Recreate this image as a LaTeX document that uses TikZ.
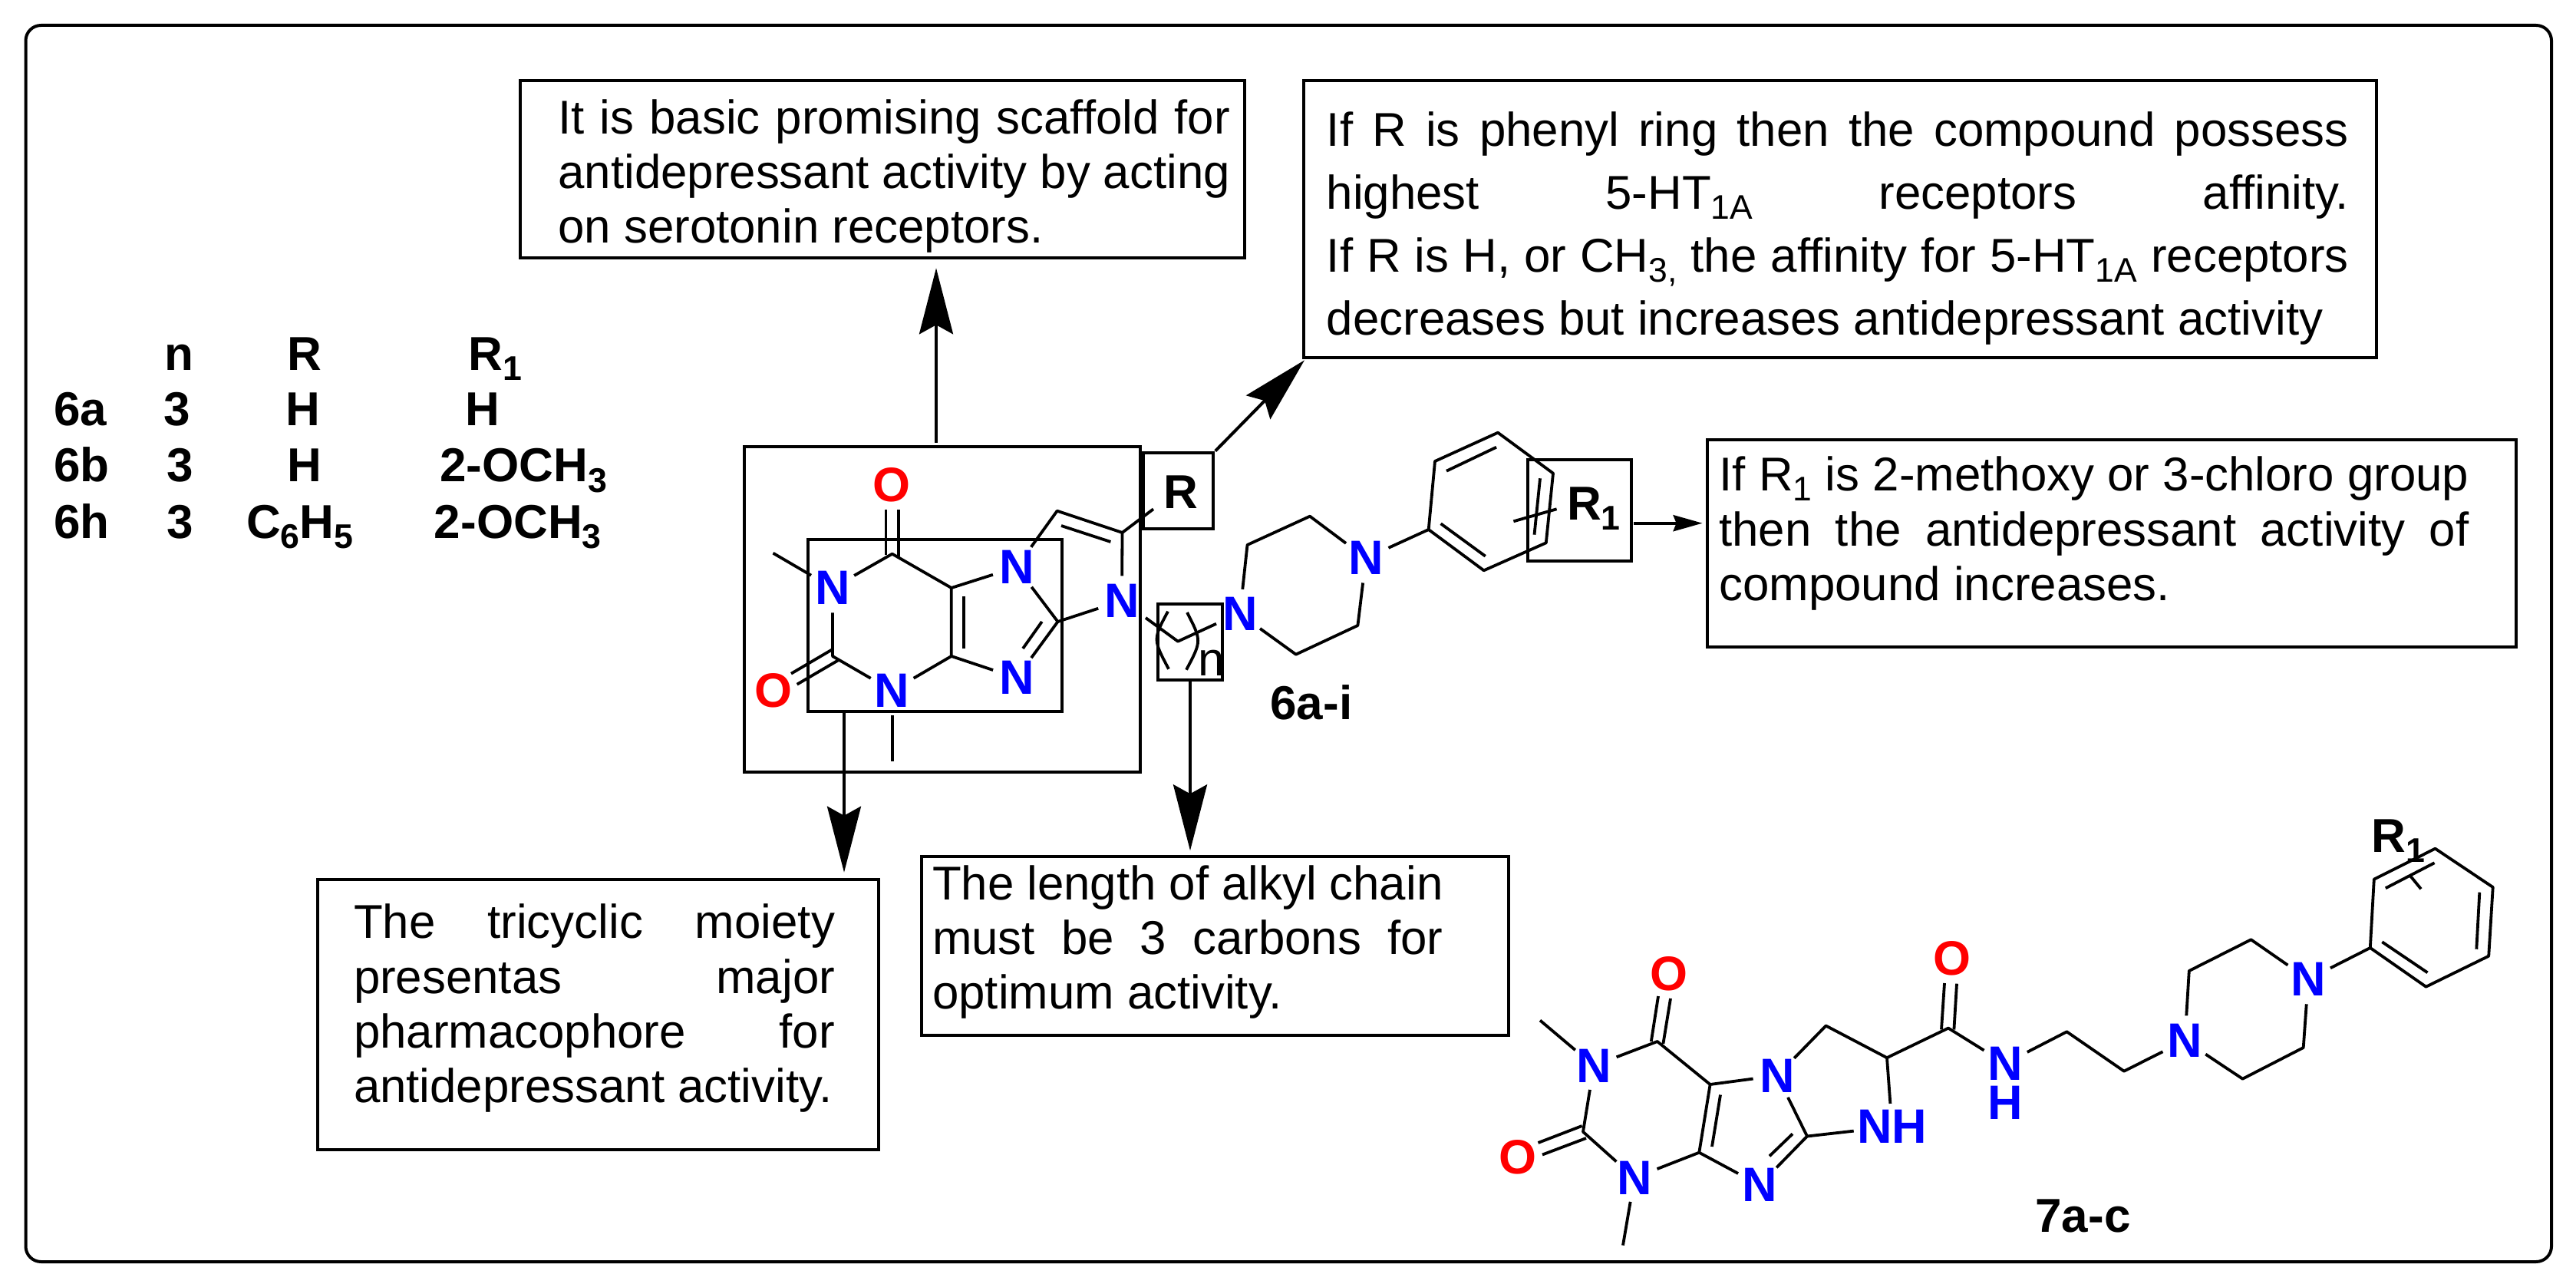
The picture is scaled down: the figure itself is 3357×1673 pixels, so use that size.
\documentclass[tikz,border=0pt]{standalone}
\usepackage{fontspec}
\usepackage{graphicx}
\setmainfont{Liberation Sans}
\usetikzlibrary{arrows.meta}
\hbadness=10000
\hfuzz=20pt
\newcommand\sbs[1]{\raisebox{-.21em}{\scalebox{.72}{#1}}}
\newcommand\bxn[5]{\pgfmathsetmacro\bw{(#4-#2)*0.5}\pgfmathsetmacro\bh{(#5-#3)*0.5}\node[boxst,minimum width=\bw pt,minimum height=\bh pt] (#1) at ({(#2+#4)/2},{(#3+#5)/2}) {};}
\newcommand\para[3]{\parbox[t]{#1}{\fontsize{30.9pt}{#2}\selectfont\sloppy #3}}
\tikzset{
  boxst/.style={draw=black,line width=2pt,inner sep=0pt},
  bond/.style={draw=black,line width=1.9pt,line join=round},
  txt/.style={inner sep=0pt,anchor=base west},
  tb/.style={inner sep=0pt,anchor=base west,font=\fontsize{31pt}{36pt}\selectfont\bfseries},
  lab/.style={inner sep=0pt,anchor=base west,font=\fontsize{31pt}{36pt}\selectfont\bfseries},
  natom/.style={circle,inner sep=0pt,minimum size=32pt,text=blue,font=\fontsize{31.5pt}{36pt}\selectfont\bfseries},
  oatom/.style={inner sep=0pt,text=red,font=\fontsize{31.5pt}{36pt}\selectfont\bfseries},
  bigarrow/.style={draw=black,line width=2pt,-{Stealth[length=43pt,width=22pt,inset=6pt]}},
  smallarrow/.style={draw=black,line width=2pt,-{Stealth[length=19pt,width=10.5pt,inset=2pt]}},
}
\begin{document}
\begin{tikzpicture}[x=0.5pt,y=-0.5pt]
\useasboundingbox (0,0) rectangle (3357,1673);
\fill[white] (0,0) rectangle (3357,1673);
\draw[line width=2pt,rounded corners=10pt] (33.5,33) rectangle (3325,1644);

% text boxes
\bxn{btop}{678}{105}{1621.6}{336}
\bxn{bright}{1698.6}{105}{3097}{466}
\bxn{bone}{2224.7}{572.7}{3278.5}{842.7}
\bxn{btri}{414}{1146}{1144.5}{1498}
\bxn{balk}{1201}{1116}{1966}{1349}
\node[txt] (ttop) at (727,175) {\para{437.8pt}{35.5pt}{It is basic promising scaffold for\linebreak antidepressant activity by acting\linebreak on serotonin receptors.}};
\node[txt] (tright) at (1728.4,190.7) {\para{666pt}{41pt}{If R is phenyl ring then the compound possess\linebreak highest 5-HT\sbs{1A} receptors affinity.\linebreak If R is H, or CH\sbs{3,} the affinity for 5-HT\sbs{1A} receptors\linebreak decreases but increases antidepressant activity}};
\node[txt] (tone) at (2240,640) {\para{488.5pt}{35.7pt}{If R\sbs{1} is 2-methoxy or 3-chloro group\linebreak then the antidepressant activity of\linebreak compound increases.}};
\node[txt] (ttri) at (460.6,1222.7) {\para{313.5pt}{35.7pt}{The tricyclic moiety\linebreak presentas major\linebreak pharmacophore for\linebreak antidepressant activity.}};
\node[txt] (talk) at (1214.7,1172.7) {\para{332.7pt}{35.5pt}{The length of alkyl chain\linebreak must be 3 carbons for\linebreak optimum activity.}};

% table
\node[tb] (hn) at (214.5,482.7) {n};
\node[tb] (hr) at (374,482.7) {R};
\node[tb] (hra) at (610.4,482.7) {R\sbs{1}};
\node[tb] (a0) at (70,555) {6a};
\node[tb] (a1) at (213.5,555) {3};
\node[tb] (a2) at (371.6,555) {H};
\node[tb] (a3) at (606,555) {H};
\node[tb] (b0) at (70,628) {6b};
\node[tb] (b1) at (217,628) {3};
\node[tb] (b2) at (374,628) {H};
\node[tb] (b3) at (573,628) {2-OCH\sbs{3}};
\node[tb] (c0) at (70,701.7) {6h};
\node[tb] (c1) at (217,701.7) {3};
\node[tb] (c2t) at (320.6,701.7) {C\sbs{6}H\sbs{5}};
\node[tb] (c3) at (565.5,701.7) {2-OCH\sbs{3}};

% highlight boxes
\bxn{outer}{970}{582}{1485.5}{1006}
\bxn{inner}{1053.4}{703.3}{1383.5}{926.7}
\bxn{rbox}{1489.6}{590}{1580.5}{689}
\bxn{nbox}{1509}{786.7}{1593}{886}
\bxn{raone}{1990.8}{599.3}{2125.5}{731}

% molecule 6a-i
\coordinate (c6) at (1162.7,721.7);
\coordinate (c2) at (1085,855);
\coordinate (c4) at (1239.8,855);
\coordinate (c5) at (1239.8,766);
\coordinate (c8) at (1378.5,810);
\coordinate (v1) at (1377.6,665.7);
\coordinate (v2) at (1462.5,694);
\coordinate (m1) at (1007.5,720.7);
\coordinate (m3) at (1162.7,991.7);
\coordinate (rend) at (1503,663.3);
\coordinate (ch1) at (1493,805);
\coordinate (ch2) at (1535,835.7);
\coordinate (ch3) at (1585,812.7);
\node[natom] (n1) at (1085,766) {N};
\node[natom] (n3) at (1162.7,900) {N};
\node[natom] (n7) at (1324.8,739) {N};
\node[natom] (n9) at (1324.8,883.3) {N};
\node[natom] (nr) at (1462,782.7) {N};
\node[natom] (pa) at (1615.8,800) {N};
\node[natom] (pb) at (1780,727.3) {N};
\node[oatom] (o6) at (1162,632.3) {O};
\node[oatom] (o2) at (1007.5,900) {O};
\draw[bond] (m1) -- (n1);
\draw[bond] (n1) -- (c6) -- (c5) -- (c4) -- (n3);
\draw[bond] (n1) -- (c2) -- (n3);
\draw[bond] (m3) -- (n3);
\draw[bond] (c5) -- (n7);
\draw[bond] (c4) -- (n9);
\draw[bond] (1256.3,776.7) -- (1256.3,845);
\draw[bond] (n7) -- (c8);
\draw[bond] (c8) -- (n9);
\draw[bond] (1357.8,810) -- (1333,845);
\draw[bond] (c8) -- (nr);
\draw[bond] (n7) -- (v1) -- (v2) -- (nr);
\draw[bond] (1383,685) -- (1447.4,706);
\draw[bond] (v2) -- (rend);
\draw[bond] (1154.4,664.3) -- (1154.4,723);
\draw[bond] (1171,664.3) -- (1171,725);
\draw[bond] (1031,877.7) -- (1085,846);
\draw[bond] (1038.7,891.7) -- (1092.9,860);
\draw[bond] (ch1) -- (ch2) -- (ch3);
\draw[bond] (1522,796.7) .. controls (1502.5,833) .. (1523,871.7);
\draw[bond] (1547,798) .. controls (1566,835) .. (1546,872.7);
\node[inner sep=0pt,anchor=base west,font=\fontsize{31pt}{36pt}\selectfont] (nlab) at (1561,880) {n};
\coordinate (pa1) at (1625.5,710);
\coordinate (pa2) at (1707,672.7);
\coordinate (pb1) at (1769.4,815);
\coordinate (pb2) at (1688.8,852.7);
\draw[bond] (pa) -- (pa1) -- (pa2) -- (pb);
\draw[bond] (pb) -- (pb1) -- (pb2) -- (pa);
\coordinate (ph1) at (1861.7,690);
\coordinate (ph2) at (1870,601);
\coordinate (ph3) at (1952,563.7);
\coordinate (ph4) at (2024,616.7);
\coordinate (ph5) at (2014.8,707.3);
\coordinate (ph6) at (1933.7,743.3);
\draw[bond] (pb) -- (ph1);
\draw[bond] (ph1) -- (ph2) -- (ph3) -- (ph4) -- (ph5) -- (ph6) -- cycle;
\draw[bond] (1885,613.7) -- (1950,582.7);
\draw[bond] (2007,623.3) -- (1999.5,696.7);
\draw[bond] (1877.6,682.3) -- (1935.7,724.7);
\draw[bond] (1972.4,679.3) -- (2028.6,663.3);
\node[lab] (rlab) at (1516,662.7) {R};
\node[lab] (raonelab) at (2041.8,677.3) {R\sbs{1}};
\node[lab] (lab6) at (1655,937.3) {6a-i};

% arrows
\coordinate (afrom) at (1220,577);
\coordinate (ato) at (1220,349.3);
\draw[bigarrow] (afrom) -- (ato);
\coordinate (bfrom) at (1583.7,587.7);
\coordinate (bto) at (1700,469.3);
\draw[bigarrow] (bfrom) -- (bto);
\coordinate (cfrom) at (1100,926.7);
\coordinate (cto) at (1100,1136.7);
\draw[bigarrow] (cfrom) -- (cto);
\coordinate (dto) at (1551,1108.3);
\draw[bigarrow] (nbox.south) -- (dto);
\coordinate (efrom) at (2129,681.7);
\coordinate (eto) at (2218.6,681.7);
\draw[smallarrow] (efrom) -- (eto);

% molecule 7a-c
\coordinate (d6) at (2159.8,1357);
\coordinate (d2) at (2063,1474.7);
\coordinate (d4) at (2214.3,1501.7);
\coordinate (d5) at (2228.6,1413);
\coordinate (d8) at (2355,1480.5);
\coordinate (dm1) at (2007,1329.5);
\coordinate (dm3) at (2115,1622.6);
\coordinate (ch) at (2379.5,1336.5);
\coordinate (cg) at (2459,1378.2);
\coordinate (am) at (2539,1339.6);
\node[natom,minimum size=31pt] (e1) at (2077,1388.6) {N};
\node[natom,minimum size=31pt] (e3) at (2130,1534.6) {N};
\node[natom,minimum size=31pt] (e7) at (2316,1401.4) {N};
\node[natom,minimum size=31pt] (e9) at (2293,1544) {N};
\node[inner sep=0pt,inner xsep=2pt,inner ysep=4pt,text=blue,font=\fontsize{31.5pt}{36pt}\selectfont\bfseries] (enh) at (2465.6,1468) {NH};
\node[natom] (eam) at (2613,1385.7) {N};
\node[inner sep=0pt,text=blue,font=\fontsize{31.5pt}{36pt}\selectfont\bfseries] (eamh) at (2613,1436.7) {H};
\node[oatom] (f6) at (2174.5,1268.5) {O};
\node[oatom] (f2) at (1978,1507.5) {O};
\node[oatom] (fa) at (2543.8,1249) {O};
\draw[bond] (dm1) -- (e1);
\draw[bond] (e1) -- (d6) -- (d5) -- (d4) -- (e3);
\draw[bond] (e1) -- (d2) -- (e3);
\draw[bond] (dm3) -- (e3);
\draw[bond] (d5) -- (e7);
\draw[bond] (d4) -- (e9);
\draw[bond] (2242,1426.5) -- (2231,1494);
\draw[bond] (e7) -- (d8);
\draw[bond] (d8) -- (e9);
\draw[bond] (2336,1477.4) -- (2306,1506.3);
\draw[bond] (d8) -- (enh);
\draw[bond] (e7) -- (ch) -- (cg) -- (enh);
\draw[bond] (cg) -- (am) -- (eam);
\draw[bond] (2534,1281) -- (2530,1341.5);
\draw[bond] (2550,1281.7) -- (2546.4,1341.5);
\draw[bond] (2161,1298) -- (2151.8,1357);
\draw[bond] (2177,1301) -- (2167.4,1360);
\draw[bond] (2004.5,1489) -- (2061.6,1467);
\draw[bond] (2010,1504.5) -- (2067,1483);
\coordinate (l1) at (2693.4,1344.3);
\coordinate (l2) at (2768,1395.7);
\node[natom] (qa) at (2847.3,1355.7) {N};
\node[natom] (qb) at (3008,1276) {N};
\draw[bond] (eam) -- (l1) -- (l2) -- (qa);
\coordinate (qa1) at (2852.8,1265);
\coordinate (qa2) at (2933.5,1224.3);
\coordinate (qb1) at (3001.7,1365);
\coordinate (qb2) at (2922.5,1405.7);
\draw[bond] (qa) -- (qa1) -- (qa2) -- (qb);
\draw[bond] (qb) -- (qb1) -- (qb2) -- (qa);
\coordinate (g1) at (3088.8,1235);
\coordinate (g2) at (3093.8,1145.7);
\coordinate (g3) at (3173.5,1105.7);
\coordinate (g4) at (3248.7,1156);
\coordinate (g5) at (3243.2,1245.7);
\coordinate (g6) at (3161.5,1285.7);
\draw[bond] (qb) -- (g1);
\draw[bond] (g1) -- (g2) -- (g3) -- (g4) -- (g5) -- (g6) -- cycle;
\draw[bond] (3108.8,1157.3) -- (3172.5,1124.3);
\draw[bond] (3231.3,1162.7) -- (3227.3,1236.7);
\draw[bond] (3104.3,1227.3) -- (3163.5,1267.3);
\draw[bond] (3155,1158.3) -- (3140,1140);
\node[lab] (rb) at (3090,1110.7) {R\sbs{1}};
\node[lab] (lab7) at (2652,1605) {7a-c};
\end{tikzpicture}
\end{document}
